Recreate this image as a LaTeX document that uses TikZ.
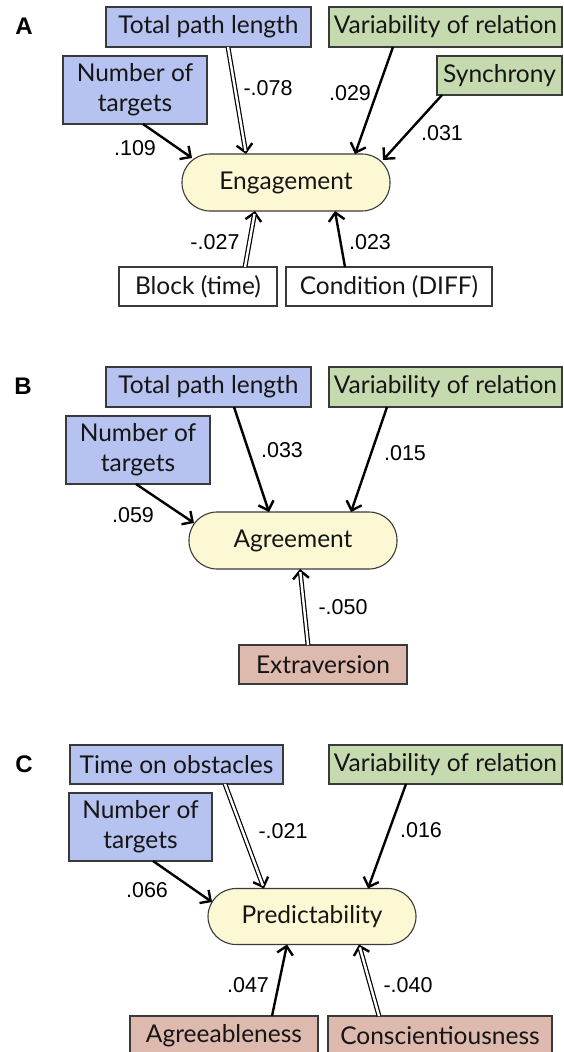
\documentclass[tikz,border=0pt]{standalone}
\usepackage{fontspec}
\setmainfont{Lato}
\newfontfamily\numfont{Liberation Sans}
\usetikzlibrary{arrows.meta}

\definecolor{motorblue}{HTML}{B6C3F1}
\definecolor{socialgreen}{HTML}{C6DAB0}
\definecolor{traitpink}{HTML}{DDB9AE}
\definecolor{outcomeyellow}{HTML}{FCF8D4}
\definecolor{boxline}{HTML}{3A3A3A}
\definecolor{textc}{HTML}{151515}

\begin{document}
\begin{tikzpicture}[x=1pt,y=-1pt,
  box/.style={draw=boxline, line width=1.1pt, inner sep=0pt, text=textc, align=center,
    font=\fontsize{24.5}{30}\selectfont},
  blue/.style={box, fill=motorblue},
  green/.style={box, fill=socialgreen},
  pink/.style={box, fill=traitpink},
  plain/.style={box, fill=white},
  outcome/.style={box, fill=outcomeyellow, rounded corners=28pt,
    minimum width=208pt, minimum height=57pt},
  sz/.style 2 args={minimum width=#1pt, minimum height=#2pt},
  lab/.style={inner sep=0pt, text=black, font=\numfont\fontsize{21.5}{26}\selectfont},
  panel/.style={inner sep=0pt, text=black, font=\numfont\bfseries\fontsize{24}{28}\selectfont},
  sarr/.style={draw=black, line width=2.4pt, -{Straight Barb[length=8pt,width=16pt]}},
  dline/.style={draw=black, line width=1.2pt, double=white, double distance=2.4pt, shorten >=3pt},
]
\useasboundingbox (0,0) rectangle (563,1052);
\clip (0,0) rectangle (563,1052);

% ---------------- Panel A ----------------
\node[panel] (pA) at (24,26) {A};
\node[blue, sz={205}{40}] (tplA) at (208.5,27) {Total path length};
\node[green, sz={233}{40}] (varA) at (445.5,27) {Variability of relation};
\node[blue, sz={144}{68}] (ntA) at (135,90) {Number of\\targets};
\node[green, sz={125}{39}] (syncA) at (499.5,75.5) {Synchrony};
\node[outcome] (engA) at (286,182.5) {Engagement};
\node[plain, sz={158}{39}] (blockA) at (198,286.5) {Block (time)};
\node[plain, sz={206}{39}] (condA) at (389,286.5) {Condition (DIFF)};

\draw[sarr] ([shift={(8,34)}]ntA.center) -- ([shift={(-94,-24.5)}]engA.center);
\draw[sarr] ([shift={(19.5,20)}]tplA.center) -- ([shift={(-40,-28.5)}]engA.center);
\draw[dline] ([shift={(19.5,20)}]tplA.center) -- ([shift={(-40,-28.5)}]engA.center);
\draw[sarr] ([shift={(-52.5,20)}]varA.center) -- ([shift={(69,-28.5)}]engA.center);
\draw[sarr] ([shift={(-57.5,19.5)}]syncA.center) -- ([shift={(97,-22.5)}]engA.center);
\draw[sarr] ([shift={(47,-19.5)}]blockA.center) -- ([shift={(-31,28.5)}]engA.center);
\draw[dline] ([shift={(47,-19.5)}]blockA.center) -- ([shift={(-31,28.5)}]engA.center);
\draw[sarr] ([shift={(-44,-19.5)}]condA.center) -- ([shift={(49,28.5)}]engA.center);

\node[lab] (lA1) at (135,148) {.109};
\node[lab] (lA2) at (268,88) {-.078};
\node[lab] (lA3) at (350,93) {.029};
\node[lab] (lA4) at (442,133) {.031};
\node[lab] (lA5) at (215,242) {-.027};
\node[lab] (lA6) at (370,242) {.023};

% ---------------- Panel B ----------------
\node[panel] (pB) at (23,386) {B};
\node[blue, sz={205}{40}] (tplB) at (208.5,387) {Total path length};
\node[green, sz={233}{40}] (varB) at (445.5,387) {Variability of relation};
\node[blue, sz={144}{68}] (ntB) at (138,450) {Number of\\targets};
\node[outcome] (agrB) at (293,540.5) {Agreement};
\node[pink, sz={168}{39}] (extB) at (323,664.5) {Extraversion};

\draw[sarr] ([shift={(-2,34)}]ntB.center) -- ([shift={(-99,-17.5)}]agrB.center);
\draw[sarr] ([shift={(25.5,20)}]tplB.center) -- ([shift={(-24,-28.5)}]agrB.center);
\draw[sarr] ([shift={(-58.5,20)}]varB.center) -- ([shift={(58,-28.5)}]agrB.center);
\draw[sarr] ([shift={(-15,-19.5)}]extB.center) -- ([shift={(7,28.5)}]agrB.center);
\draw[dline] ([shift={(-15,-19.5)}]extB.center) -- ([shift={(7,28.5)}]agrB.center);

\node[lab] (lB1) at (133,515) {.059};
\node[lab] (lB2) at (282,450) {.033};
\node[lab] (lB3) at (405,453) {.015};
\node[lab] (lB4) at (343,607) {-.050};

% ---------------- Panel C ----------------
\node[panel] (pC) at (24,764) {C};
\node[blue, sz={213}{39}] (tooC) at (176.5,764.5) {Time on obstacles};
\node[green, sz={233}{39}] (varC) at (445.5,764.5) {Variability of relation};
\node[blue, sz={143}{68}] (ntC) at (140.5,827) {Number of\\targets};
\node[outcome, minimum height=56pt] (preC) at (312,916.5) {Predictability};
\node[pink, sz={188}{39}] (agbC) at (224,1035.5) {Agreeableness};
\node[pink, sz={224}{39}] (conC) at (440,1035.5) {Conscientiousness};

\draw[sarr] ([shift={(12.5,34)}]ntC.center) -- ([shift={(-100,-14.5)}]preC.center);
\draw[sarr] ([shift={(48.5,19.5)}]tooC.center) -- ([shift={(-48,-28)}]preC.center);
\draw[dline] ([shift={(48.5,19.5)}]tooC.center) -- ([shift={(-48,-28)}]preC.center);
\draw[sarr] ([shift={(-39.5,19.5)}]varC.center) -- ([shift={(56,-28)}]preC.center);
\draw[sarr] ([shift={(48,-19.5)}]agbC.center) -- ([shift={(-25,28)}]preC.center);
\draw[sarr] ([shift={(-61,-19.5)}]conC.center) -- ([shift={(47,28)}]preC.center);
\draw[dline] ([shift={(-61,-19.5)}]conC.center) -- ([shift={(47,28)}]preC.center);

\node[lab] (lC1) at (147,890) {.066};
\node[lab] (lC2) at (283,831) {-.021};
\node[lab] (lC3) at (421,830) {.016};
\node[lab] (lC4) at (248,985) {.047};
\node[lab] (lC5) at (408,985) {-.040};
\end{tikzpicture}
\end{document}
